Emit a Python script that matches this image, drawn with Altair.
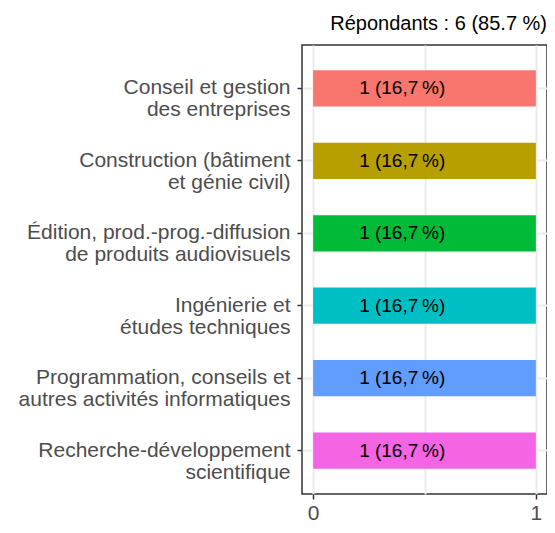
import altair as alt
import pandas as pd

categories = [
    "Conseil et gestion|des entreprises",
    "Construction (bâtiment|et génie civil)",
    "Édition, prod.-prog.-diffusion|de produits audiovisuels",
    "Ingénierie et|études techniques",
    "Programmation, conseils et|autres activités informatiques",
    "Recherche-développement|scientifique",
]
counts = [1, 1, 1, 1, 1, 1]
labels = ["1 (16,7\u202f%)"] * 6
label_pos = [0.40] * 6
colors = ["#F8766D", "#B79F00", "#00BA38", "#00BFC4", "#619CFF", "#F564E3"]
title_text = "Répondants : 6 (85.7 %)"

df = pd.DataFrame({"cat": categories, "n": counts, "lab": labels, "pos": label_pos})

FONT = "Liberation Sans"

y_enc = alt.Y(
    "cat:N",
    sort=categories,
    scale=alt.Scale(paddingInner=0.5, paddingOuter=0.35),
    axis=alt.Axis(
        title=None,
        labelExpr="split(datum.label, '|')",
        labelFont=FONT,
        labelFontSize=21,
        labelColor="#4D4D4D",
        labelLineHeight=22,
        labelAlign="right",
        labelPadding=7,
        labelLimit=400,
        tickColor="#333333",
        tickSize=5,
        tickWidth=1.5,
        domain=False,
        grid=True,
        gridColor="#EBEBEB",
        gridWidth=2,
        bandPosition=0.5,
    ),
)

bars = alt.Chart(df).mark_bar().encode(
    x=alt.X(
        "n:Q",
        scale=alt.Scale(domain=[-0.05, 1.05], nice=False, zero=False),
        axis=alt.Axis(
            title=None,
            values=[0, 0.5, 1],
            format=".0f",
            labelExpr="datum.value == 0.5 ? '' : datum.label",
            labelFont=FONT,
            labelFontSize=21,
            labelColor="#4D4D4D",
            labelPadding=3,
            tickColor="#333333",
            tickOpacity={"condition": {"test": "datum.value == 0.5", "value": 0}, "value": 1},
            tickSize=5,
            tickWidth=1.5,
            domain=False,
            grid=True,
            gridColor="#EBEBEB",
            gridWidth=2,
            labelFlush=False,
        ),
    ),
    y=y_enc,
    color=alt.Color("cat:N", scale=alt.Scale(domain=categories, range=colors), legend=None),
)

text = alt.Chart(df).mark_text(font=FONT, fontSize=19, color="#000000").encode(
    x=alt.X("pos:Q"),
    y=alt.Y("cat:N", sort=categories),
    text="lab:N",
)

chart = (
    alt.layer(bars, text)
    .properties(
        width=245,
        height=449,
        autosize=alt.AutoSizeParams(type="none"),
        padding={"left": 294, "top": 37, "right": 0, "bottom": 31},
        title=alt.TitleParams(
            title_text,
            anchor="end",
            font=FONT,
            fontSize=20,
            fontWeight="normal",
            color="#000000",
            offset=11,
        ),
    )
    .configure_view(stroke="#333333", strokeWidth=1.5, fill="white")
)

chart.save("out.html", embed_options={"renderer": "svg", "actions": False})
